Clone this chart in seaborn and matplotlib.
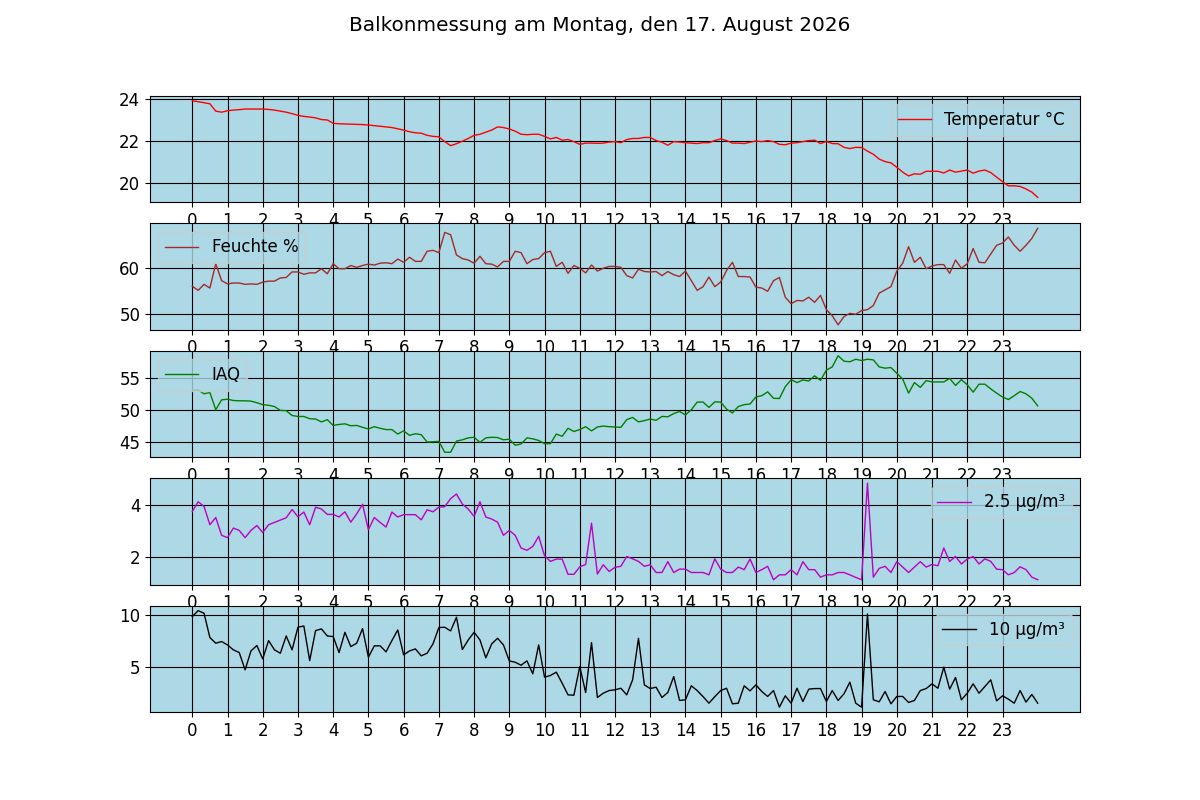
import numpy as np
import matplotlib
matplotlib.use("Agg")
import matplotlib.pyplot as plt
import seaborn as sns

plt.rcParams["font.size"] = 12

# --- Messwerte (alle 10 Minuten, 00:00 bis 24:00) ---
temperatur = [
    23.89, 23.85, 23.8, 23.75, 23.4, 23.35, 23.42, 23.45, 23.47, 23.5,
    23.5, 23.5, 23.5, 23.48, 23.45, 23.4, 23.35, 23.28, 23.2, 23.15,
    23.12, 23.08, 23.0, 22.98, 22.82, 22.8, 22.79, 22.78, 22.77, 22.76,
    22.74, 22.71, 22.68, 22.65, 22.62, 22.56, 22.5, 22.42, 22.37, 22.35,
    22.25, 22.2, 22.18, 21.95, 21.76, 21.85, 21.97, 22.1, 22.25, 22.3,
    22.4, 22.5, 22.65, 22.62, 22.55, 22.45, 22.3, 22.28, 22.3, 22.3,
    22.2, 22.08, 22.15, 22.02, 22.05, 21.95, 21.82, 21.88, 21.88, 21.87,
    21.88, 21.93, 21.95,
    21.9, 22.05, 22.1, 22.1, 22.15, 22.15, 22.0, 21.92, 21.78, 21.95,
    21.93, 21.9, 21.88, 21.86, 21.9, 21.9, 22.0, 22.08, 22.0, 21.88,
    21.88, 21.86, 21.92, 21.98, 21.95, 22.0, 21.95, 21.82, 21.8, 21.88,
    21.9, 21.95, 22.0, 22.02, 21.86, 21.96, 21.86, 21.85, 21.68, 21.62,
    21.68, 21.67, 21.5, 21.35, 21.12, 21.0, 20.94, 20.73, 20.5, 20.32,
    20.42, 20.4, 20.54, 20.54, 20.54, 20.46, 20.6, 20.5, 20.55, 20.6,
    20.45, 20.55, 20.6, 20.48, 20.26, 20.05, 19.85, 19.85, 19.82, 19.7,
    19.55, 19.3,
]

feuchte = [
    56.0, 55.1, 56.4, 55.6, 60.9, 57.2, 56.5, 56.7, 56.7, 56.4,
    56.5, 56.4, 56.9, 57.1, 57.1, 57.8, 57.9, 59.1, 59.1, 58.6,
    58.9, 58.9, 59.8, 58.7, 60.9, 59.8, 59.8, 60.5, 60.1, 60.5,
    60.8, 60.6, 61.0, 61.1, 60.9, 61.9, 61.2, 62.3, 61.4, 61.4,
    63.6, 63.8, 63.3, 67.7, 67.2, 62.8, 62.0, 61.7, 61.0, 62.5,
    60.9, 60.8, 60.2, 61.4, 61.4, 63.6, 63.3, 60.9, 61.8, 62.0,
    63.3, 63.6, 60.3, 61.2, 58.8, 60.5, 59.9, 58.9, 60.6, 59.3,
    59.9, 60.3,
    60.3, 60.1, 58.3, 57.8, 59.7, 59.2, 59.1, 59.2, 58.3, 59.2,
    58.5, 58.1, 59.3, 57.2, 55.1, 55.9, 58.0, 55.9, 56.9, 59.4,
    61.2, 58.1, 58.1, 58.0, 55.8, 55.6, 54.9, 57.2, 57.9, 53.6,
    52.2, 52.9, 52.8, 53.6, 52.5, 54.0, 50.9, 49.6, 47.6, 49.4,
    50.1, 49.9, 50.7, 50.9, 51.8, 54.5, 55.2, 55.9, 59.3, 61.0,
    64.6, 61.2, 62.3, 59.8, 60.4, 60.7, 60.7, 58.8, 61.7, 59.9,
    60.9, 64.2, 61.2, 61.1, 63.0, 64.9, 65.4, 66.7, 64.9, 63.6,
    64.9, 66.4, 68.6,
]

iaq = [
    53.0, 53.1, 52.5, 52.7, 50.0, 51.55, 51.65, 51.45, 51.4, 51.4,
    51.35, 51.1, 50.8, 50.7, 50.5, 49.9, 49.85, 49.1, 48.95, 48.95,
    48.6, 48.55, 48.1, 48.45, 47.55, 47.7, 47.8, 47.5, 47.55, 47.25,
    47.0, 47.35, 47.1, 46.9, 46.9, 46.2, 46.7, 46.0, 46.25, 46.1,
    44.95, 45.0, 45.05, 43.35, 43.35, 45.1, 45.3, 45.6, 45.7, 44.9,
    45.6, 45.7, 45.65, 45.3, 45.4, 44.45, 44.65, 45.6, 45.45, 45.2,
    44.7, 44.7, 46.2, 45.85, 47.1, 46.6, 46.9, 47.35, 46.7, 47.3,
    47.45, 47.35,
    47.3, 47.25, 48.45, 48.8, 48.1, 48.3, 48.55, 48.35, 48.96, 48.9,
    49.4, 49.74, 49.2, 50.0, 51.2, 51.2, 50.36, 51.24, 51.2, 50.1,
    49.5, 50.5, 50.8, 50.9, 52.0, 52.2, 52.8, 51.8, 51.76, 53.6,
    54.7, 54.25, 54.66, 54.5, 55.3, 54.6, 56.2, 56.7, 58.45, 57.6,
    57.5, 57.9, 57.7, 57.9, 57.8, 56.7, 56.5, 56.6, 55.7, 54.8,
    52.6, 54.25, 53.5, 54.56, 54.35, 54.35, 54.35, 54.9, 53.8, 54.7,
    53.9, 52.75, 54.0, 54.0, 53.26, 52.6, 52.0, 51.6, 52.2, 52.85,
    52.5, 51.8, 50.6,
]

pm25 = [
    3.75, 4.13, 3.95, 3.24, 3.52, 2.83, 2.74, 3.11, 3.02, 2.74,
    3.02, 3.21, 2.94, 3.24, 3.33, 3.42, 3.51, 3.83, 3.55, 3.73,
    3.24, 3.92, 3.85, 3.64, 3.64, 3.54, 3.74, 3.34, 3.66, 4.03,
    3.05, 3.52, 3.33, 3.15, 3.73, 3.54, 3.63, 3.63, 3.63, 3.43,
    3.82, 3.74, 3.92, 3.94, 4.25, 4.43, 4.04, 3.85, 3.56, 4.13,
    3.54, 3.46, 3.34, 2.83, 3.02, 2.83, 2.34, 2.25, 2.4, 2.79,
    2.04, 1.82, 1.91, 1.91, 1.32, 1.32, 1.61, 1.7, 3.3, 1.33,
    1.69, 1.43, 1.59,
    1.63, 2.01, 1.92, 1.82, 1.63, 1.69, 1.39, 1.39, 1.81, 1.39,
    1.52, 1.52, 1.39, 1.39, 1.39, 1.3, 1.92, 1.52, 1.39, 1.39,
    1.6, 1.5, 1.91, 1.39, 1.5, 1.63, 1.11, 1.3, 1.3, 1.5,
    1.3, 1.81, 1.5, 1.5, 1.21, 1.3, 1.3, 1.39, 1.39, 1.3,
    1.2, 1.11, 4.85, 1.21, 1.55, 1.63, 1.39, 1.81, 1.6, 1.39,
    1.6, 1.81, 1.6, 1.7, 1.65, 2.34, 1.82, 2.01, 1.72, 1.91,
    2.01, 1.72, 1.92, 1.82, 1.52, 1.5, 1.3, 1.39, 1.61, 1.5,
    1.21, 1.11,
]

pm10 = [
    9.81, 10.38, 10.13, 7.82, 7.28, 7.44, 7.12, 6.65, 6.39, 4.75,
    6.55, 7.06, 5.79, 7.53, 6.65, 6.33, 7.97, 6.65, 8.8, 8.92,
    5.63, 8.48, 8.64, 7.97, 7.91, 6.39, 8.32, 6.96, 7.28, 8.67,
    5.95, 7.03, 7.03, 6.46, 7.53, 8.54, 6.17, 6.55, 6.74, 6.08,
    6.33, 7.22, 8.77, 8.8, 8.45, 9.75, 6.68, 7.59, 8.32, 7.59,
    5.89, 7.22, 7.75, 7.12, 5.6, 5.47, 5.19, 5.6, 4.37, 7.12,
    4.05, 4.21, 4.53, 3.48, 2.37, 2.34, 5.06, 2.59, 7.34, 2.12,
    2.53, 2.78, 2.85,
    3.0, 2.37, 3.8, 7.75, 3.32, 2.97, 3.1, 2.12, 2.6, 4.11,
    1.84, 1.9, 3.23, 2.78, 2.2, 1.58, 2.2, 2.78, 3.0, 1.52,
    1.58, 3.23, 2.75, 3.32, 2.69, 2.22, 2.78, 1.2, 2.28, 1.58,
    3.0, 1.74, 2.91, 2.97, 2.97, 1.74, 2.78, 1.84, 2.47, 3.58,
    1.58, 1.2, 10.06, 1.9, 1.71, 2.69, 1.52, 2.22, 2.22, 1.65,
    1.84, 2.78, 2.97, 3.42, 3.0, 5.0, 2.91, 4.02, 1.9, 2.53,
    3.42, 2.53, 3.16, 3.8, 1.8, 2.28, 1.96, 1.58, 2.78, 1.68,
    2.41, 1.58,
]

stunden = np.arange(len(temperatur)) / 6.0
xticks = list(range(24))

reihen = [
    (temperatur, "red", "Temperatur °C", "upper right"),
    (feuchte, "brown", "Feuchte %", "upper left"),
    (iaq, "green", "IAQ", "upper left"),
    (pm25, "m", "2.5 µg/m³", "upper right"),
    (pm10, "black", "10 µg/m³", "upper right"),
]

fig, axes = plt.subplots(5, 1, figsize=(12, 8), dpi=100)

for ax, (werte, farbe, name, pos) in zip(axes, reihen):
    ax.set_facecolor("lightblue")
    sns.lineplot(x=stunden, y=werte, ax=ax, color=farbe, linewidth=1, label=name)
    ax.set_xticks(xticks)
    ax.grid(True, color="black")
    ax.legend(loc=pos, facecolor="lightblue")

fig.suptitle("Balkonmessung am Montag, den 17. August 2026")
fig.savefig("out.png")
